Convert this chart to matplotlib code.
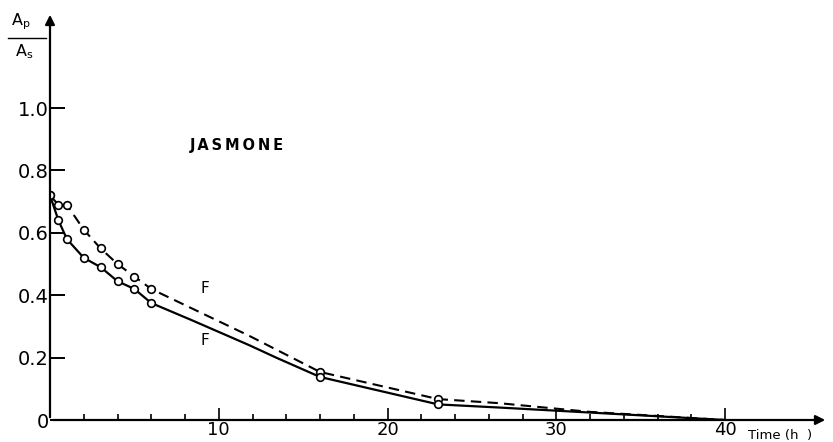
import numpy as np
import matplotlib
matplotlib.use("Agg")
import matplotlib.pyplot as plt

# time (h) where points were measured
t_marks = [0, 0.5, 1, 2, 3, 4, 5, 6, 16, 23]
# dashed curve (upper F)
dash_marks = [0.72, 0.69, 0.69, 0.61, 0.55, 0.50, 0.46, 0.42, 0.154, 0.067]
# solid curve (lower F)
solid_marks = [0.72, 0.64, 0.58, 0.52, 0.49, 0.445, 0.42, 0.375, 0.138, 0.05]

# hand drawn curves through the points, extended to 40 h
t_dash = [0, 0.5, 1, 2, 3, 4, 5, 6, 11.8, 16, 23, 26.6, 32, 40]
v_dash = [0.72, 0.69, 0.69, 0.61, 0.55, 0.50, 0.46, 0.42, 0.27, 0.154, 0.067, 0.054, 0.026, 0.0]
t_solid = [0, 0.5, 1, 2, 3, 4, 5, 6, 8.4, 11.8, 13.4, 16, 23, 26.6, 40]
v_solid = [0.72, 0.64, 0.58, 0.52, 0.49, 0.445, 0.42, 0.375, 0.32, 0.24, 0.20, 0.138, 0.05, 0.04, 0.0]

yticks = [0, 0.2, 0.4, 0.6, 0.8, 1.0]
ylabels = ["0", "0.2", "0.4", "0.6", "0.8", "1.0"]
xticks = [10, 20, 30, 40]
xminor = np.arange(2, 40, 2)

fig = plt.figure(figsize=(8.33, 4.42), dpi=100)
ax = fig.add_axes([50/833, 22/442, 778/833, 408/442])
ax.set_xlim(0, 46.1)
ax.set_ylim(0, 1.308)

ax.plot(t_dash, v_dash, color="k", lw=1.5, ls=(0, (5, 3)))
ax.plot(t_solid, v_solid, color="k", lw=1.6)
ax.plot(t_marks, dash_marks, "o", mfc="white", mec="k", ms=5.5, mew=1.2)
ax.plot(t_marks, solid_marks, "o", mfc="white", mec="k", ms=5.5, mew=1.2)

for s in ax.spines.values():
    s.set_visible(False)
ax.annotate("", xy=(1, 0), xytext=(0, 0), xycoords="axes fraction",
            arrowprops=dict(arrowstyle="-|>", color="k", lw=1.6, mutation_scale=14))
ax.annotate("", xy=(0, 1), xytext=(0, 0), xycoords="axes fraction",
            arrowprops=dict(arrowstyle="-|>", color="k", lw=1.6, mutation_scale=14))

ax.set_yticks(yticks)
ax.set_yticklabels(ylabels)
ax.set_xticks(xticks)
ax.set_xticks(xminor, minor=True)
ax.tick_params(axis="y", direction="in", length=11, width=1.4, pad=1, labelsize=14)
ax.tick_params(axis="x", which="major", direction="in", length=9, width=1.2, pad=1, labelsize=13)
ax.tick_params(axis="x", which="minor", direction="in", length=4, width=1.2)

ax.text(8.3, 0.88, "J\u2009A\u2009S\u2009M\u2009O\u2009N\u2009E", fontsize=10.5,
        fontweight="semibold", ha="left", va="center")
ax.text(9.2, 0.42, "F", fontsize=11, ha="center", va="center")
ax.text(9.2, 0.255, "F", fontsize=11, ha="center", va="center")
fig.text(748/833, 1 - 436/442, "Time (h  )", fontsize=9.5, ha="left", va="center")

fig.text(21/833, 1 - 22/442, r"$\mathregular{A_p}$", fontsize=11.5, ha="center", va="center")
fig.add_artist(plt.Line2D([8/833, 46/833], [1 - 38/442, 1 - 38/442], color="k", lw=1.0))
fig.text(24/833, 1 - 52/442, r"$\mathregular{A_s}$", fontsize=11.5, ha="center", va="center")

fig.savefig("out.png", dpi=100)
